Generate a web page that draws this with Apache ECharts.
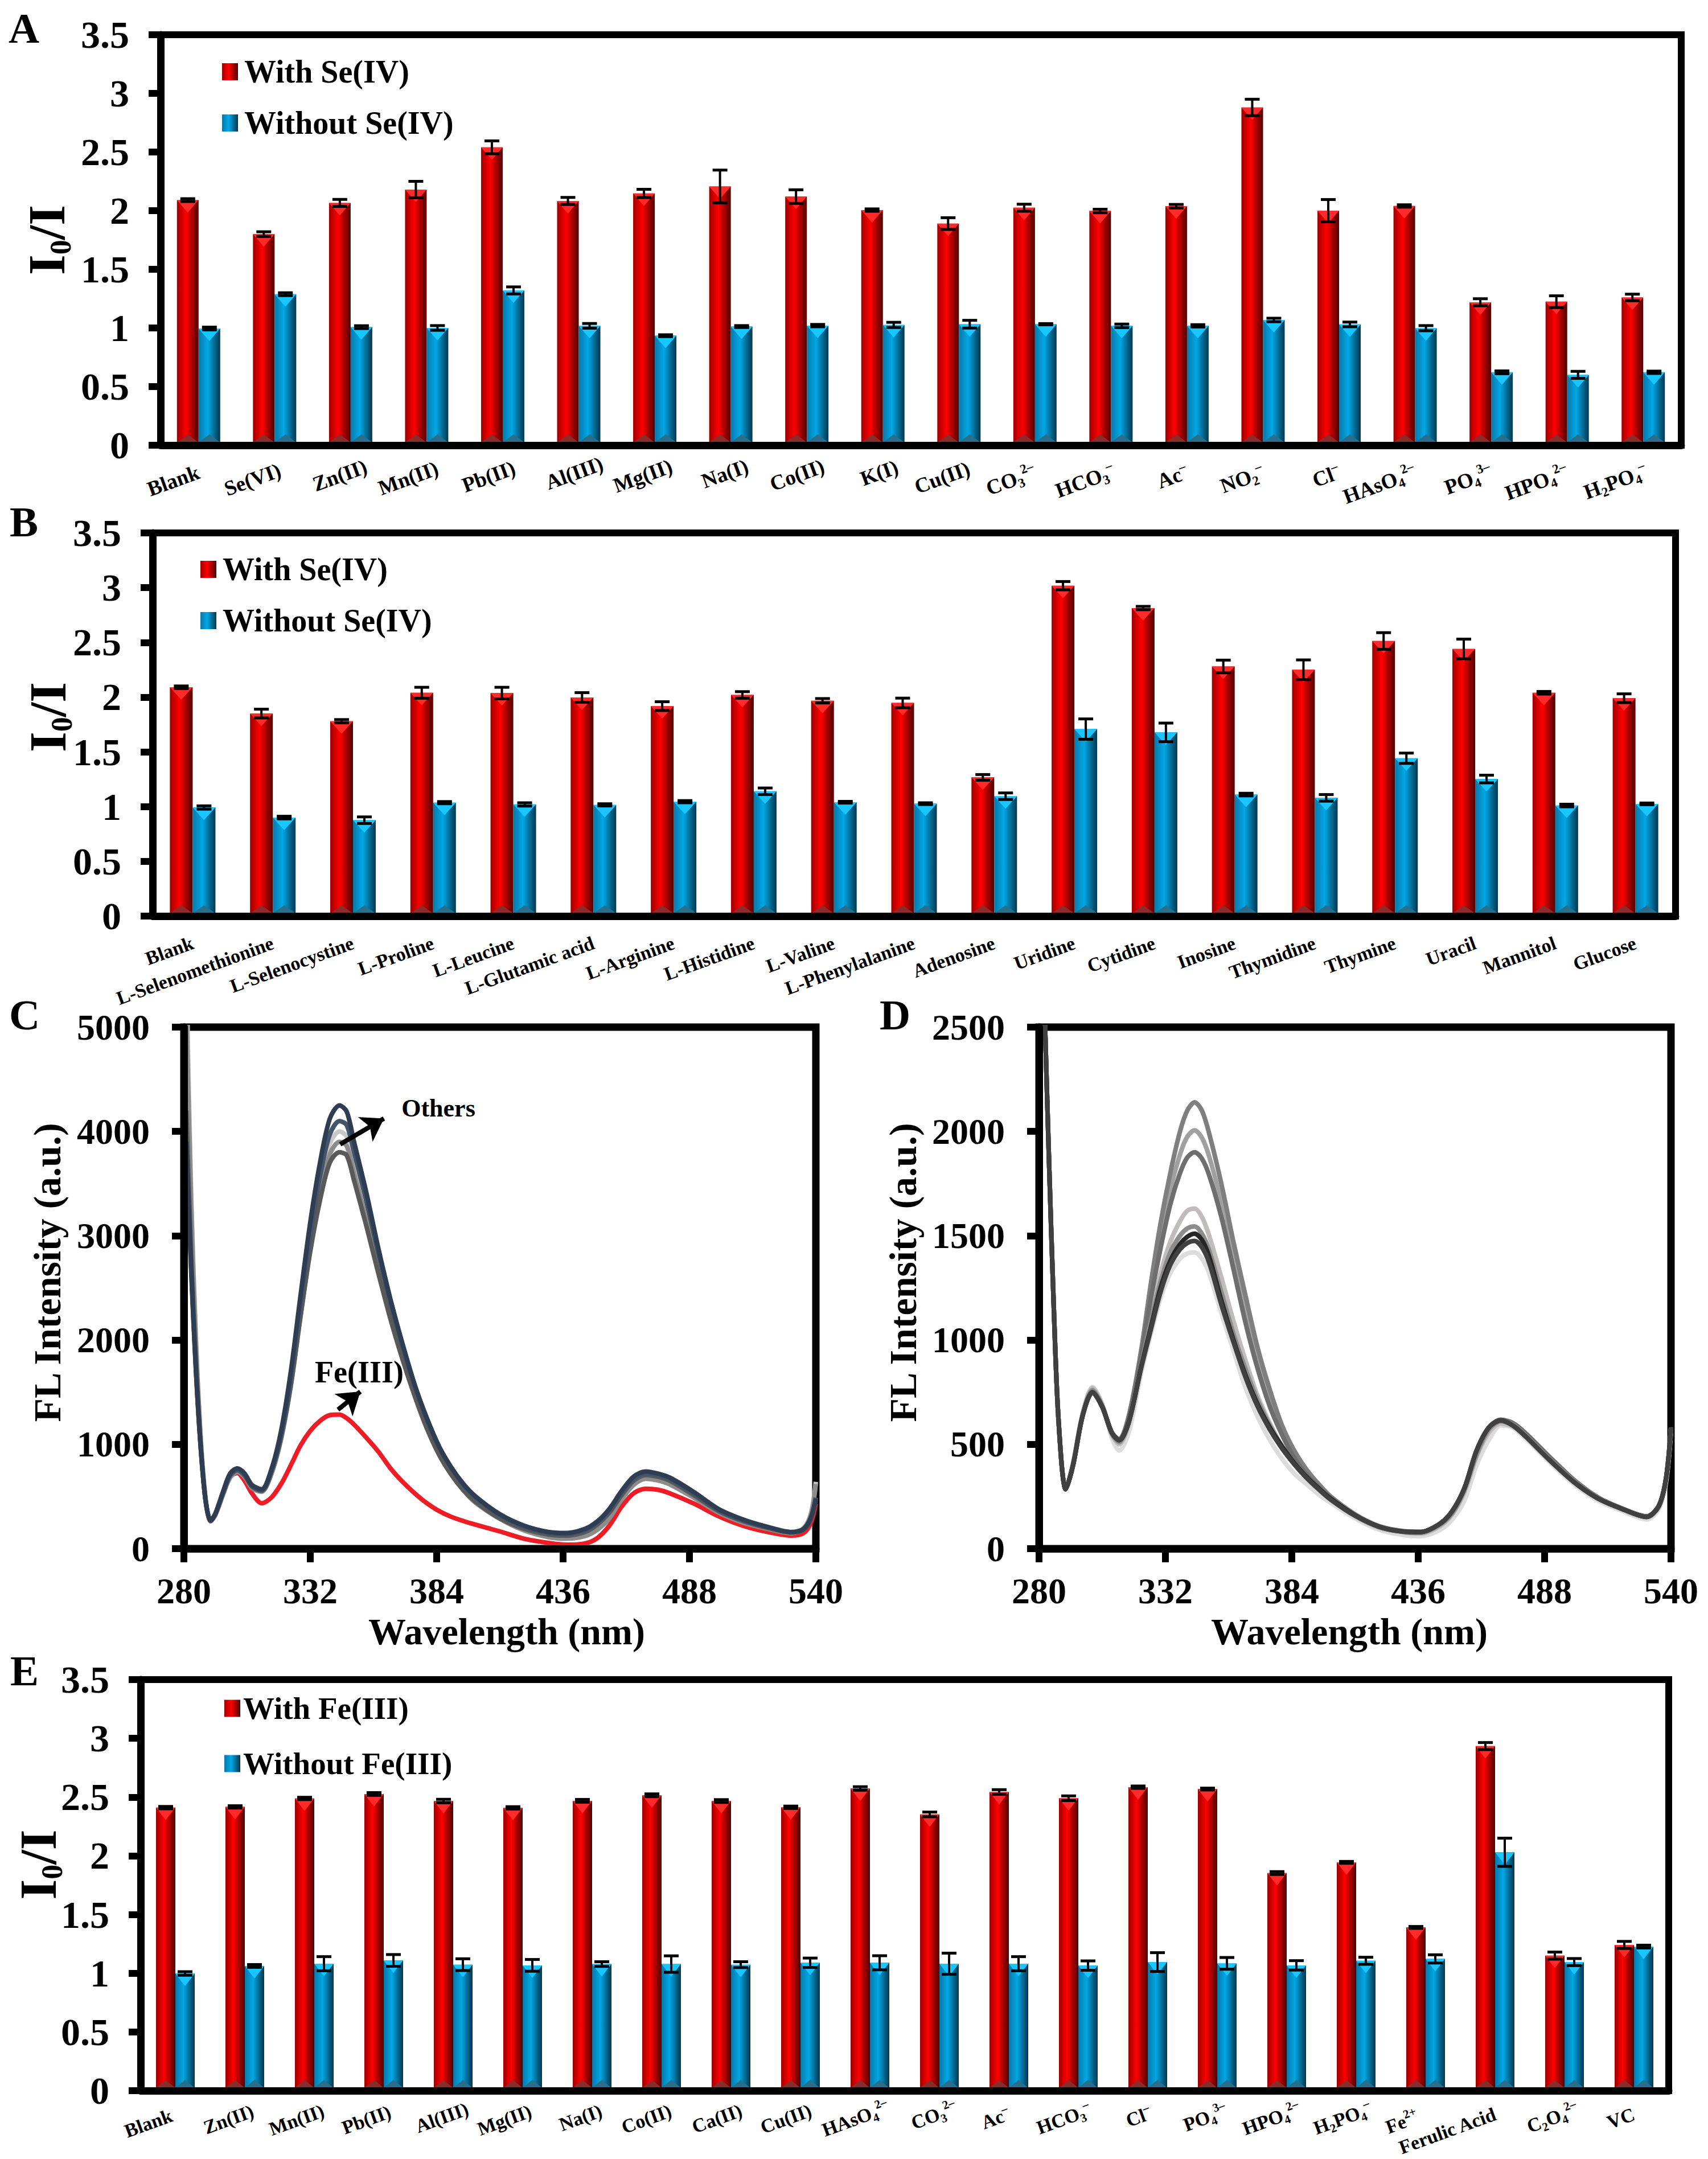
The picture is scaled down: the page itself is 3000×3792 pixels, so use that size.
<!DOCTYPE html>
<html><head><meta charset="utf-8">
<style>html,body{margin:0;padding:0;background:#fff}#c{width:3000px;height:3792px}</style>
<script src="https://cdn.jsdelivr.net/npm/echarts@6/dist/echarts.min.js"></script>
</head><body><div id="c"></div>
<script>
// ---------- Panel A ----------
const catsA = ['Blank','Se(VI)','Zn(II)','Mn(II)','Pb(II)','Al(III)','Mg(II)','Na(I)','Co(II)','K(I)','Cu(II)','CO_3^2–','HCO_3^–','Ac^–','NO_2^–','Cl^–','HAsO_4^2–','PO_4^3–','HPO_4^2–','H_2PO_4^–'];
const withA = [2.09,1.80,2.066,2.18,2.54,2.083,2.147,2.206,2.12,2.005,1.89,2.025,1.997,2.038,2.88,2.00,2.04,1.219,1.224,1.26];
const withErrA = [0.012,0.02,0.03,0.07,0.055,0.03,0.035,0.14,0.058,0.01,0.05,0.03,0.015,0.015,0.07,0.095,0.01,0.03,0.05,0.028];
const withoutA = [0.995,1.288,1.007,1.00,1.32,1.018,0.934,1.012,1.02,1.026,1.032,1.032,1.018,1.018,1.068,1.03,0.998,0.622,0.60,0.622];
const withoutErrA = [0.012,0.012,0.012,0.02,0.03,0.02,0.008,0.008,0.01,0.022,0.033,0.005,0.015,0.01,0.015,0.02,0.022,0.012,0.03,0.01];
// ---------- Panel B ----------
const catsB = ['Blank','L-Selenomethionine','L-Selenocystine','L-Proline','L-Leucine','L-Glutamic acid','L-Arginine','L-Histidine','L-Valine','L-Phenylalanine','Adenosine','Uridine','Cytidine','Inosine','Thymidine','Thymine','Uracil','Mannitol','Glucose'];
const withB = [2.09,1.85,1.78,2.04,2.037,1.997,1.918,2.02,1.967,1.947,1.267,3.018,2.814,2.28,2.25,2.513,2.44,2.04,1.99];
const withErrB = [0.012,0.04,0.015,0.05,0.053,0.044,0.04,0.03,0.02,0.044,0.026,0.038,0.015,0.058,0.09,0.076,0.09,0.012,0.04];
const withoutB = [0.992,0.90,0.876,1.036,1.02,1.016,1.045,1.14,1.04,1.027,1.095,1.708,1.678,1.11,1.08,1.442,1.252,1.01,1.025];
const withoutErrB = [0.015,0.012,0.03,0.01,0.015,0.01,0.01,0.03,0.008,0.008,0.03,0.093,0.085,0.012,0.03,0.047,0.035,0.012,0.008];
// ---------- Panel E ----------
const catsE = ['Blank','Zn(II)','Mn(II)','Pb(II)','Al(III)','Mg(II)','Na(I)','Co(II)','Ca(II)','Cu(II)','HAsO_4^2–','CO_3^2–','Ac^–','HCO_3^–','Cl^–','PO_4^3–','HPO_4^2–','H_2PO_4^–','Fe^2+','Ferulic Acid','C_2O_4^2–','VC'];
const withE = [2.41,2.416,2.488,2.526,2.466,2.408,2.468,2.515,2.466,2.413,2.573,2.352,2.543,2.49,2.584,2.568,1.853,1.944,1.39,2.934,1.15,1.241];
const withErrE = [0.01,0.01,0.01,0.012,0.015,0.01,0.012,0.012,0.012,0.01,0.015,0.02,0.02,0.02,0.01,0.008,0.012,0.008,0.008,0.03,0.03,0.03];
const withoutE = [0.998,1.062,1.081,1.109,1.073,1.067,1.078,1.078,1.073,1.089,1.089,1.081,1.081,1.065,1.095,1.084,1.067,1.106,1.122,2.03,1.095,1.227];
const withoutErrE = [0.015,0.012,0.06,0.05,0.05,0.05,0.02,0.07,0.025,0.04,0.06,0.09,0.06,0.04,0.08,0.05,0.04,0.03,0.035,0.12,0.03,0.012];
// ---------- Panel C spectra ----------
const waveC = [281,283,285,287,289,291,293,296,299,302,305,308,312,316,320,324,328,332,336,340,344,347,350,355,360,365,370,375,380,385,390,395,400,410,420,430,437,445,450,455,460,465,470,475,480,490,500,510,520,530,535,538,540];
const cRed = [3900,2700,1700,950,450,265,330,520,690,725,650,530,435,490,620,800,990,1130,1225,1280,1285,1250,1190,1065,930,770,640,530,435,360,305,265,230,165,95,55,38,50,100,220,400,530,575,565,530,430,310,220,160,125,150,250,430];
const cLight = [5600,3400,2000,1050,470,265,330,520,690,745,695,590,550,730,1080,1600,2290,2950,3480,3880,4000,3950,3680,3230,2740,2280,1870,1500,1190,930,730,570,450,290,180,115,100,130,190,300,480,620,680,665,625,495,350,255,195,150,200,340,640];
const cGrey = [5200,3300,1950,1020,460,262,325,510,680,735,685,580,545,715,1050,1560,2230,2870,3390,3780,3900,3860,3600,3160,2680,2230,1830,1470,1160,910,720,560,440,285,175,110,95,120,180,290,470,610,670,655,615,485,345,250,190,148,195,330,620];
const cDark = [4200,2800,1750,960,450,266,335,525,700,750,700,595,555,735,1070,1570,2230,2850,3340,3700,3800,3770,3530,3100,2640,2200,1810,1460,1150,900,710,560,450,290,190,135,125,160,230,345,510,650,705,690,650,510,360,265,200,155,185,295,490];
const cSlate = [3850,2650,1680,940,445,268,335,530,705,755,705,600,560,745,1100,1640,2350,3020,3570,3970,4100,4060,3800,3340,2830,2350,1930,1550,1230,970,770,610,490,320,210,150,140,180,250,365,530,670,720,705,665,525,370,270,205,155,185,290,470];
const cNavy = [3900,2700,1700,950,450,270,340,540,720,770,720,610,570,760,1130,1700,2430,3130,3700,4120,4250,4190,3900,3420,2880,2390,1960,1570,1250,980,780,620,500,330,220,160,150,190,260,380,550,690,740,720,680,540,380,280,210,160,190,300,480];
// ---------- Panel D spectra ----------
const waveD = [282,284,286,288,291,294,298,302,306,310,313,317,322,326,330,334,338,341,344,347,350,355,360,365,370,375,380,385,390,395,400,410,420,430,437,445,450,455,460,465,470,475,480,490,500,510,520,530,535,538,540];
const d2140 = [2700,1900,1180,620,285,400,640,750,680,555,525,640,950,1270,1560,1800,2000,2100,2140,2100,1990,1750,1470,1210,960,760,590,470,380,310,250,165,108,84,80,118,175,285,460,575,615,600,555,440,330,245,192,155,205,340,580];
const d2000 = [2700,1900,1180,620,285,405,645,755,680,550,520,635,930,1230,1490,1720,1890,1975,2005,1970,1880,1660,1400,1130,900,710,570,450,365,300,245,162,106,82,78,118,172,282,455,572,612,598,550,435,328,244,190,153,205,340,580];
const d1900 = [2700,1900,1180,620,285,400,640,750,678,552,520,630,920,1200,1440,1650,1800,1875,1900,1870,1790,1590,1340,1080,860,680,545,435,355,295,242,160,105,82,80,120,178,288,465,580,618,602,555,440,330,245,192,155,205,340,580];
const d1630 = [2700,1900,1180,620,285,410,650,770,690,545,500,600,880,1110,1320,1470,1570,1620,1630,1590,1500,1300,1090,900,730,600,490,405,340,285,235,155,100,78,72,108,165,270,440,555,600,585,540,425,320,240,188,150,200,335,575];
const d1540 = [2700,1900,1180,620,285,405,645,760,685,550,510,610,880,1090,1280,1420,1500,1535,1545,1510,1430,1230,1030,860,710,590,490,410,345,290,240,160,105,80,76,115,170,280,450,570,610,595,545,430,325,242,190,152,205,340,580];
const d1420 = [2700,1900,1180,620,285,410,650,775,695,530,470,560,840,1030,1200,1320,1390,1415,1420,1390,1320,1130,950,770,630,520,430,360,310,260,220,145,90,65,60,90,140,230,400,520,590,580,530,415,310,230,180,140,190,320,560];
const d1470 = [2700,1900,1180,620,285,400,640,750,680,555,520,610,865,1050,1230,1360,1435,1465,1475,1445,1370,1170,990,820,680,570,480,405,340,285,235,158,104,82,80,120,180,290,470,580,615,590,540,425,320,240,190,152,205,340,580];
const d1510 = [2700,1900,1180,620,285,400,640,750,680,555,520,610,870,1060,1250,1380,1460,1495,1510,1480,1400,1190,1000,830,690,580,490,410,345,290,240,160,105,82,80,120,180,290,470,580,615,590,540,425,320,240,190,152,205,340,580];

const FONT = 'Liberation Serif';
const T = (size,extra) => Object.assign({fontFamily:FONT,fontWeight:'bold',fontSize:size,color:'#000'},extra||{});
const grad = (a,b,c) => ({type:'linear',x:0,y:0,x2:1,y2:0,colorStops:[{offset:0,color:a},{offset:0.42,color:b},{offset:1,color:c}]});
const RED = grad('#a00000','#ff0000','#4e0000');
const BLUE = grad('#0a78a8','#00a8e6','#03364d');

const grids=[],xAxes=[],yAxes=[],series=[],legends=[],graphics=[];

function richLabel(s){
  return s.replace(/_(\d+)|\^([^_^]+)|([^_^]+)/g,(m,sub,sup,n)=> sub?`{s|${sub}}`:sup?`{p|${sup}}`:`{n|${n}}`);
}
function deco(side,barW,topC,botC){
  return function(params,api){
    const i=api.value(0),v=api.value(1),e=api.value(2);
    const p=api.coord([i,v]),b=api.coord([i,0]),hi=api.coord([i,v+e]),lo=api.coord([i,v-e]);
    const cx=p[0]+side*barW/2,xl=cx-barW/2,xr=cx+barW/2,cap=13;
    return {type:'group',children:[
      {type:'polygon',shape:{points:[[xl,p[1]],[xr,p[1]],[cx,p[1]+22]]},style:{fill:topC}},
      {type:'polygon',shape:{points:[[xl,b[1]-5],[xr,b[1]-5],[cx,b[1]-19]]},style:{fill:botC}},
      {type:'line',shape:{x1:cx,y1:hi[1],x2:cx,y2:lo[1]},style:{stroke:'#000',lineWidth:4}},
      {type:'line',shape:{x1:cx-cap,y1:hi[1],x2:cx+cap,y2:hi[1]},style:{stroke:'#000',lineWidth:5}},
      {type:'line',shape:{x1:cx-cap,y1:lo[1],x2:cx+cap,y2:lo[1]},style:{stroke:'#000',lineWidth:5}}
    ]};
  };
}
function barPanel(o){
  const k=grids.length;
  grids.push({show:true,left:o.left,top:o.top,width:o.width,height:o.height,borderColor:'#000',borderWidth:12,backgroundColor:'#fff',outerBoundsMode:'none'});
  const fs=o.catFont;
  const shifts=o.labelShift||[];
  xAxes.push({gridIndex:k,type:'category',z:10,
    data:o.cats.map((c,i)=>shifts[i]?{value:c,textStyle:{padding:[0,-shifts[i],0,0]}}:c),
    axisLine:{lineStyle:{color:'#000',width:13}},
    axisTick:{alignWithLabel:true,length:13,lineStyle:{color:'#666',width:4}},
    axisLabel:{interval:0,rotate:20,margin:o.catMargin,hideOverlap:false,formatter:richLabel,
      rich:{n:T(fs,{lineHeight:fs+8}),s:T(fs*0.62,{verticalAlign:'bottom',lineHeight:fs*0.62}),p:T(fs*0.62,{verticalAlign:'top',lineHeight:fs*0.62})}}});
  yAxes.push({gridIndex:k,type:'value',min:0,max:3.5,interval:0.5,z:10,splitLine:{show:false},
    axisLine:{show:true,lineStyle:{color:'#000',width:13}},
    axisTick:{show:true,length:21,lineStyle:{color:'#000',width:12}},
    axisLabel:Object.assign(T(68),{margin:55,formatter:v=>String(v)}),
    name:'{a|I}{b|0}{a|/I}',nameLocation:'middle',nameGap:o.nameGap,nameMoveOverlap:false,
    nameTextStyle:{padding:[0,0,0,o.namePad||0],rich:{a:T(92,{lineHeight:100}),b:T(52,{verticalAlign:'bottom',lineHeight:52})}}});
  const bw=o.barW;
  [[o.names[0],o.withV,o.withErr,-1,RED,'#ff2b2b','#8a2c2c'],[o.names[1],o.withoutV,o.withoutErr,1,BLUE,'#19c6ff','#2a6e8c']].forEach(s=>{
    series.push({name:s[0],type:'bar',xAxisIndex:k,yAxisIndex:k,data:s[1],barWidth:bw,barGap:'0%',itemStyle:{color:s[4]}});
    series.push({name:s[0]+' detail',type:'custom',xAxisIndex:k,yAxisIndex:k,z:5,clip:false,
      encode:{x:0,y:1},data:s[1].map((v,i)=>[i,v,s[2][i]]),renderItem:deco(s[3],bw,s[5],s[6])});
  });
  legends.push({left:o.legLeft,top:o.legTop,orient:'vertical',padding:0,itemWidth:28,itemHeight:30,itemGap:o.legGap,selectedMode:false,
    textStyle:T(o.legFont,{padding:[0,0,0,o.legTextPad]}),data:[{name:o.names[0],icon:'rect',itemStyle:{color:RED}},{name:o.names[1],icon:'rect',itemStyle:{color:BLUE}}]});
}
function specPanel(o){
  const k=grids.length;
  grids.push({show:true,left:o.left,top:o.top,width:o.width,height:o.height,borderColor:'#000',borderWidth:13,backgroundColor:'#fff',outerBoundsMode:'none'});
  xAxes.push({gridIndex:k,type:'value',min:280,max:540,interval:52,z:10,splitLine:{show:false},
    axisLine:{lineStyle:{color:'#000',width:13}},axisTick:{show:true,length:24,lineStyle:{color:'#000',width:12}},
    axisLabel:Object.assign(T(64),{margin:42,formatter:v=>String(v)}),
    name:'Wavelength (nm)',nameLocation:'middle',nameGap:o.xNameGap,nameMoveOverlap:false,nameTextStyle:T(66,{padding:o.xNamePad})});
  yAxes.push({gridIndex:k,type:'value',min:0,max:o.ymax,interval:o.yint,z:10,splitLine:{show:false},
    axisLine:{show:true,lineStyle:{color:'#000',width:13}},axisTick:{show:true,length:21,lineStyle:{color:'#000',width:12}},
    axisLabel:Object.assign(T(64),{margin:60,formatter:v=>String(v)}),
    name:'FL Intensity (a.u.)',nameLocation:'middle',nameGap:o.yNameGap,nameMoveOverlap:false,nameTextStyle:T(68,{padding:[0,0,0,54]})});
  o.curves.forEach(c=>{
    const s={name:c[0],type:'line',xAxisIndex:k,yAxisIndex:k,showSymbol:false,smooth:0.3,clip:true,
      data:o.wave.map((x,i)=>[x,c[1][i]]),lineStyle:{color:c[2],width:8},itemStyle:{color:c[2]}};
    if(c[3]) s.markLine=c[3];
    series.push(s);
  });
}

barPanel({left:282,top:61,width:2671,height:721,cats:catsA,withV:withA,withErr:withErrA,withoutV:withoutA,withoutErr:withoutErrA,
  names:['With Se(IV)','Without Se(IV)'],barW:38,catFont:37,catMargin:46,nameGap:150,namePad:0,legLeft:390,legTop:98,legGap:34,legFont:56,legTextPad:6,
  labelShift:[0,10,29,20,22,44,31,31,31,27,19,0,5,0,0,0,0,0,0,5]});
barPanel({left:268,top:936,width:2675,height:673,cats:catsB,withV:withB,withErr:withErrB,withoutV:withoutB,withoutErr:withoutErrB,
  names:['With Se(IV)','Without Se(IV)'],barW:40,catFont:34,catMargin:46,nameGap:134,namePad:26,legLeft:352,legTop:972,legGap:34,legFont:56,legTextPad:6});
const arrows={silent:true,symbol:['none','arrow'],symbolSize:38,animation:false,lineStyle:{color:'#000',width:8,type:'solid'},label:{show:false},
  data:[[{coord:[344.3,3877]},{coord:[362.3,4124]}],[{coord:[343.4,1333]},{coord:[352.6,1506]}]]};
specPanel({left:323,top:1804,width:1110,height:916,ymax:5000,yint:1000,wave:waveC,xNameGap:112,yNameGap:206,xNamePad:[0,0,0,24],
  curves:[['Fe(III)',cRed,'#ee1c25'],['Others 1',cLight,'#c8c8c8'],['Others 2',cGrey,'#8c8c8c'],['Others 3',cDark,'#595959'],['Others 4',cSlate,'#44546a'],['Others 5',cNavy,'#2e3d52',arrows]]});
specPanel({left:1825,top:1804,width:1110,height:916,ymax:2500,yint:500,wave:waveD,xNameGap:112,yNameGap:205,xNamePad:[0,20,0,0],
  curves:[['D1',d1420,'#dcdcdc'],['D2',d1630,'#c0bcbc'],['D3',d2000,'#a0a0a0'],['D4',d2140,'#7f7f7f'],['D5',d1900,'#6e6e6e'],['D6',d1540,'#8c8c8c'],['D7',d1510,'#262626'],['D8',d1470,'#404040']]});
barPanel({left:247,top:2950,width:2684,height:722,cats:catsE,withV:withE,withErr:withErrE,withoutV:withoutE,withoutErr:withoutErrE,
  names:['With Fe(III)','Without Fe(III)'],barW:34,catFont:34,catMargin:40,nameGap:130,namePad:72,legLeft:394,legTop:2973,legGap:42,legFont:55,legTextPad:0,
  labelShift:[-7,15,17,12,27,15,17,17,19,19,34,31,0,22,5,17,24,27,-15,0,24,0]});

[['A',42,49],['B',42,916],['C',43,1782],['D',1572,1782],['E',43,2934]].forEach(p=>{
  graphics.push({type:'text',x:p[1],y:p[2],z:20,style:{text:p[0],font:'bold 75px "Liberation Serif"',fill:'#000',textAlign:'center',textVerticalAlign:'middle'}});
});
graphics.push({type:'text',x:770,y:1946,z:20,style:{text:'Others',font:'bold 44px "Liberation Serif"',fill:'#000',textAlign:'center',textVerticalAlign:'middle'}});
graphics.push({type:'text',x:631,y:2410,z:20,style:{text:'Fe(III)',font:'bold 54px "Liberation Serif"',fill:'#000',textAlign:'center',textVerticalAlign:'middle'}});

const chart=echarts.init(document.getElementById('c'),null,{renderer:'svg',width:3000,height:3792});
chart.setOption({animation:false,backgroundColor:'#fff',grid:grids,xAxis:xAxes,yAxis:yAxes,series:series,legend:legends,graphic:graphics});
</script></body></html>
